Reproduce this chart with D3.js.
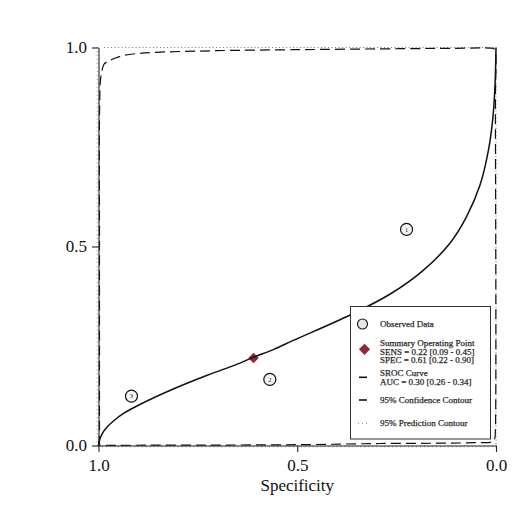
<!DOCTYPE html>
<html>
<head>
<meta charset="utf-8">
<script src="https://cdn.jsdelivr.net/npm/d3@7"></script>
<style>
  body { margin: 0; background: #fff; }
  text { font-family: "Liberation Serif", "DejaVu Serif", serif; }
</style>
</head>
<body>
<script>
// chart size
var width = 513, height = 512;
var plot = {left: 98.5, right: 496, top: 47.5, bottom: 445.5};

// observed studies
var studyIds = ["1", "2", "3"];
var studySpec = [0.225, 0.569, 0.917];
var studySens = [0.543, 0.166, 0.124];

// summary operating point
var summarySpec = 0.61;
var summarySens = 0.22;

// SROC curve
var srocSpec = [1.0, 0.998, 0.988, 0.979, 0.963, 0.938, 0.896, 0.812, 0.728, 0.644, 0.61, 0.56, 0.51,
                0.367, 0.267, 0.183, 0.116, 0.074, 0.040, 0.019, 0.008, 0.0025, 0.0];
var srocSens = [0.0, 0.012, 0.034, 0.046, 0.061, 0.080, 0.103, 0.142, 0.176, 0.207, 0.222, 0.241, 0.264,
                0.328, 0.380, 0.440, 0.508, 0.575, 0.655, 0.742, 0.822, 0.905, 1.0];

// 95% confidence contour
var confSpec = [0.9975, 0.9975, 0.9972, 0.995, 0.991, 0.986, 0.975, 0.961, 0.938, 0.90, 0.854, 0.75, 0.644,
                0.45, 0.242, 0.10, 0.015, 0.005, 0.0015, 0.0015, 0.0015, 0.003, 0.007, 0.015, 0.05, 0.116,
                0.292, 0.5, 0.745, 0.95, 0.9975];
var confSens = [0.0, 0.5, 0.85, 0.918, 0.943, 0.958, 0.966, 0.972, 0.980, 0.985, 0.988, 0.991, 0.993,
                0.995, 0.997, 0.998, 0.9985, 0.997, 0.99, 0.868, 0.039, 0.018, 0.011, 0.008, 0.007, 0.006,
                0.005, 0.002, 0.001, 0.0005, 0.0];

// 95% prediction contour
var predSpec = [0.986, 0.5, 0.0, 0.0, 0.0];
var predSens = [1.0, 1.0, 1.0, 0.5, 0.0];

// ticks
var tickValues = [1.0, 0.5, 0.0];

// legend
var legendRows = [
    {type: "circle", lines: ["Observed Data"]},
    {type: "diamond", lines: ["Summary Operating Point", "SENS = 0.22 [0.09 - 0.45]", "SPEC = 0.61 [0.22 - 0.90]"]},
    {type: "solid", lines: ["SROC Curve", "AUC = 0.30 [0.26 - 0.34]"]},
    {type: "dashed", lines: ["95% Confidence Contour"]},
    {type: "dotted", lines: ["95% Prediction Contour"]}
];

var svg = d3.select("body").append("svg")
    .attr("width", width)
    .attr("height", height);

svg.append("rect").attr("width", width).attr("height", height).attr("fill", "#fff");

var x = d3.scaleLinear().domain([1, 0]).range([plot.left, plot.right]);
var y = d3.scaleLinear().domain([0, 1]).range([plot.bottom, plot.top]);

function zipPts(a, b) { return a.map(function(v, i) { return [v, b[i]]; }); }

var line = d3.line()
    .x(function(d) { return x(d[0]); })
    .y(function(d) { return y(d[1]); });

// minor ticks (ruler look of the axes)
var minor = d3.range(0, 101).map(function(i) { return i / 100; });
svg.append("g").selectAll("line").data(minor).enter().append("line")
    .attr("x1", plot.left - 2).attr("x2", plot.left)
    .attr("y1", function(d) { return y(d); }).attr("y2", function(d) { return y(d); })
    .attr("stroke", "#777").attr("stroke-width", 0.5);
svg.append("g").selectAll("line").data(minor).enter().append("line")
    .attr("y1", plot.bottom).attr("y2", plot.bottom + 2)
    .attr("x1", function(d) { return x(d); }).attr("x2", function(d) { return x(d); })
    .attr("stroke", "#777").attr("stroke-width", 0.5);

// prediction contour
svg.append("path")
    .datum(zipPts(predSpec, predSens))
    .attr("d", line.curve(d3.curveLinear))
    .attr("fill", "none").attr("stroke", "#777")
    .attr("stroke-width", 1).attr("stroke-dasharray", "1,2.5");

// confidence contour
svg.append("path")
    .datum(zipPts(confSpec, confSens))
    .attr("d", line.curve(d3.curveCatmullRom.alpha(0.5)))
    .attr("fill", "none").attr("stroke", "#111")
    .attr("stroke-width", 1.2).attr("stroke-dasharray", "10,5");

// axes
var xAxis = d3.axisBottom(x).tickValues(tickValues).tickFormat(d3.format(".1f"))
    .tickSizeInner(6.5).tickSizeOuter(0).tickPadding(7);
var yAxis = d3.axisLeft(y).tickValues(tickValues).tickFormat(d3.format(".1f"))
    .tickSizeInner(6.5).tickSizeOuter(0).tickPadding(5);

var gx = svg.append("g").attr("transform", "translate(0," + plot.bottom + ")").call(xAxis);
var gy = svg.append("g").attr("transform", "translate(" + plot.left + ",0)").call(yAxis);
[gx, gy].forEach(function(g) {
    g.select(".domain").attr("stroke", "#222").attr("stroke-width", 1.1);
    g.selectAll(".tick line").attr("stroke", "#222").attr("stroke-width", 1.1);
    g.selectAll(".tick text").attr("font-size", 17).attr("fill", "#111")
        .style("font-family", "'Liberation Serif', serif");
});

svg.append("text")
    .attr("x", x(0.5)).attr("y", 491)
    .attr("text-anchor", "middle")
    .attr("font-size", 17).attr("fill", "#111")
    .text("Specificity");

// summary point (under the curve)
var diamond = d3.symbol().type(d3.symbolDiamond2).size(70);
svg.append("path")
    .attr("d", diamond)
    .attr("transform", "translate(" + x(summarySpec) + "," + y(summarySens) + ")")
    .attr("fill", "#8b2c34");

// SROC curve
svg.append("path")
    .datum(zipPts(srocSpec, srocSens))
    .attr("d", line.curve(d3.curveCatmullRom.alpha(0.5)))
    .attr("fill", "none").attr("stroke", "#111")
    .attr("stroke-width", 1.5);

// observed studies
var studies = svg.append("g").selectAll("g")
    .data(studyIds.map(function(id, i) { return {id: id, spec: studySpec[i], sens: studySens[i]}; }))
    .enter().append("g")
    .attr("transform", function(d) { return "translate(" + x(d.spec) + "," + y(d.sens) + ")"; });
studies.append("circle").attr("r", 6)
    .attr("fill", "#f4f4f4").attr("stroke", "#111").attr("stroke-width", 1.2);
studies.append("text")
    .attr("text-anchor", "middle").attr("dy", "0.35em")
    .attr("font-size", 6.5).attr("fill", "#222")
    .text(function(d) { return d.id; });

// legend
var legend = svg.append("g");
legend.append("rect")
    .attr("x", 350.5).attr("y", 306.5).attr("width", 140).attr("height", 132.5)
    .attr("fill", "#fff").attr("stroke", "#333").attr("stroke-width", 1);

var rowY = [324, 342.7, 372.7, 400, 423.3];
var symY = [324, 349.3, 377.3, 400, 423.3];
var lineGap = 8.8;
legendRows.forEach(function(row, i) {
    var g = legend.append("g");
    if (row.type === "circle") {
        g.append("circle").attr("cx", 362.5).attr("cy", symY[i]).attr("r", 5)
            .attr("fill", "#e6e6e6").attr("stroke", "#111").attr("stroke-width", 1.1);
    } else if (row.type === "diamond") {
        g.append("path").attr("d", d3.symbol().type(d3.symbolDiamond2).size(80))
            .attr("transform", "translate(364.5," + symY[i] + ")")
            .attr("fill", "#8b2c34");
    } else if (row.type === "dotted") {
        g.append("line").attr("x1", 358).attr("x2", 369).attr("y1", symY[i]).attr("y2", symY[i])
            .attr("stroke", "#888").attr("stroke-width", 1).attr("stroke-dasharray", "1,3");
    } else {
        g.append("line").attr("x1", 359).attr("x2", 367).attr("y1", symY[i]).attr("y2", symY[i])
            .attr("stroke", "#111").attr("stroke-width", 1.6);
    }
    row.lines.forEach(function(t, j) {
        g.append("text")
            .attr("x", 380).attr("y", rowY[i] + j * lineGap)
            .attr("dy", "0.35em")
            .attr("font-size", 9).attr("fill", "#2a2a2a")
            .attr("stroke", "#2a2a2a").attr("stroke-width", 0.25)
            .text(t);
    });
});
</script>
</body>
</html>
